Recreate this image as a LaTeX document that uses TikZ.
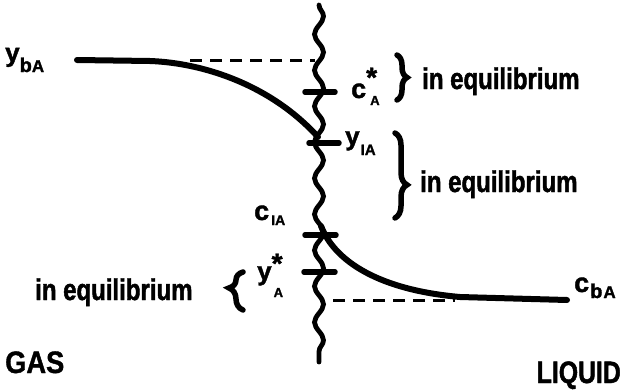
\documentclass[tikz,border=0pt]{standalone}
\usepackage{fontspec}
\setmainfont{Liberation Sans}
\newfontfamily\heavy{Liberation Sans Bold}[FakeBold=1.5]
\newfontfamily\cond{Liberation Sans Bold}[FakeStretch=0.8, FakeBold=1.5]
\newfontfamily\condw{Liberation Sans Bold}[FakeStretch=0.88, FakeBold=1.2]
\usetikzlibrary{decorations.pathmorphing,decorations.pathreplacing}
\newcommand\fs[1]{\fontsize{#1}{#1}\selectfont}
\begin{document}
\begin{tikzpicture}[x=1pt,y=-1pt,
  ink/.style={line width=6pt, line cap=round, line join=round},
  tickmark/.style={line width=5.5pt, line cap=round},
  dashline/.style={line width=3pt, dash pattern=on 12pt off 8pt},
  wavy/.style={line width=4.8pt, line cap=round, decorate,
    decoration={snake, segment length=36pt, amplitude=4.5pt}},
  brc/.style={line width=5.5pt, line cap=round, decorate},
  lbl/.style={inner sep=0pt, anchor=base west, font=\heavy},
  eq/.style={inner sep=0pt, anchor=base west, font=\cond\fs{30}},
  big/.style={inner sep=0pt, anchor=base west, font=\cond\fs{31}}]
\useasboundingbox (0,0) rectangle (625,389);

% interface
\coordinate (wtop) at (319,5);
\coordinate (wbot) at (319,362);
\draw[wavy] (wtop) -- (wbot);

% ticks
\coordinate (t1a) at (305,92);  \coordinate (t1b) at (335,92);
\coordinate (t2a) at (309,143); \coordinate (t2b) at (339,143);
\coordinate (t3a) at (305,235); \coordinate (t3b) at (336,235);
\coordinate (t4a) at (304,272); \coordinate (t4b) at (335,272);
\draw[tickmark] (t1a) -- (t1b);
\draw[tickmark] (t2a) -- (t2b);
\draw[tickmark] (t3a) -- (t3b);
\draw[tickmark] (t4a) -- (t4b);

% dashed levels
\coordinate (d1a) at (190,60);  \coordinate (d1b) at (315,60);
\coordinate (d2a) at (333,300); \coordinate (d2b) at (455,300);
\draw[dashline] (d1a) -- (d1b);
\draw[dashline] (d2a) -- (d2b);

% gas profile
\coordinate (gs) at (77,60);
\coordinate (gi) at (318,137);
\draw[ink] (gs) -- (150,61) .. controls (205,63) and (272,86) .. (gi);

% liquid profile
\coordinate (li) at (321,226);
\coordinate (le) at (567,300);
\draw[ink] (li) .. controls (335,262) and (380,290) .. (460,297) -- (le);

% braces
\draw[brc, decoration={brace, amplitude=10pt}] (397,55) -- (397,100);
\draw[brc, decoration={brace, amplitude=12pt, aspect=0.61}] (395,133) -- (395,218);
\draw[brc, decoration={brace, amplitude=14pt, aspect=0.58}] (243,310) -- (243,272);

% labels
\node[lbl] (ybA) at (5,61.5) {\fs{26}y\raisebox{-10.5pt}{\fs{20}b\fs{17}A}};
\node[lbl] (cA) at (351,98) {\fs{27}c\rlap{\raisebox{11pt}{\fs{28}*}}\hspace{4pt}\raisebox{-7pt}{\fs{13}A}};
\node[lbl] (yiA) at (345,145) {\fs{26}y\hspace{1pt}\raisebox{-10pt}{\fs{15}IA}};
\node[lbl] (ciA) at (254,220) {\fs{27}c\hspace{2pt}\raisebox{-5pt}{\fs{14}IA}};
\node[lbl] (yA) at (257,280) {\fs{26}y\rlap{\raisebox{7pt}{\fs{28}*}}\hspace{2pt}\raisebox{-17pt}{\fs{13}A}};
\node[lbl] (cbA) at (574,292) {\fs{27}c\hspace{1pt}\raisebox{-6pt}{\fs{20}b\hspace{1pt}\fs{17}A}};

\node[eq] (eq1) at (422,89) {in equilibrium};
\node[eq] (eq2) at (420,192) {in equilibrium};
\node[eq] (eq3) at (35,300) {in equilibrium};
\node[big, font=\condw\fs{31}] (gas) at (5,373) {GAS};
\node[big, anchor=base east] (liq) at (621,383) {LIQUID};
\end{tikzpicture}
\end{document}
